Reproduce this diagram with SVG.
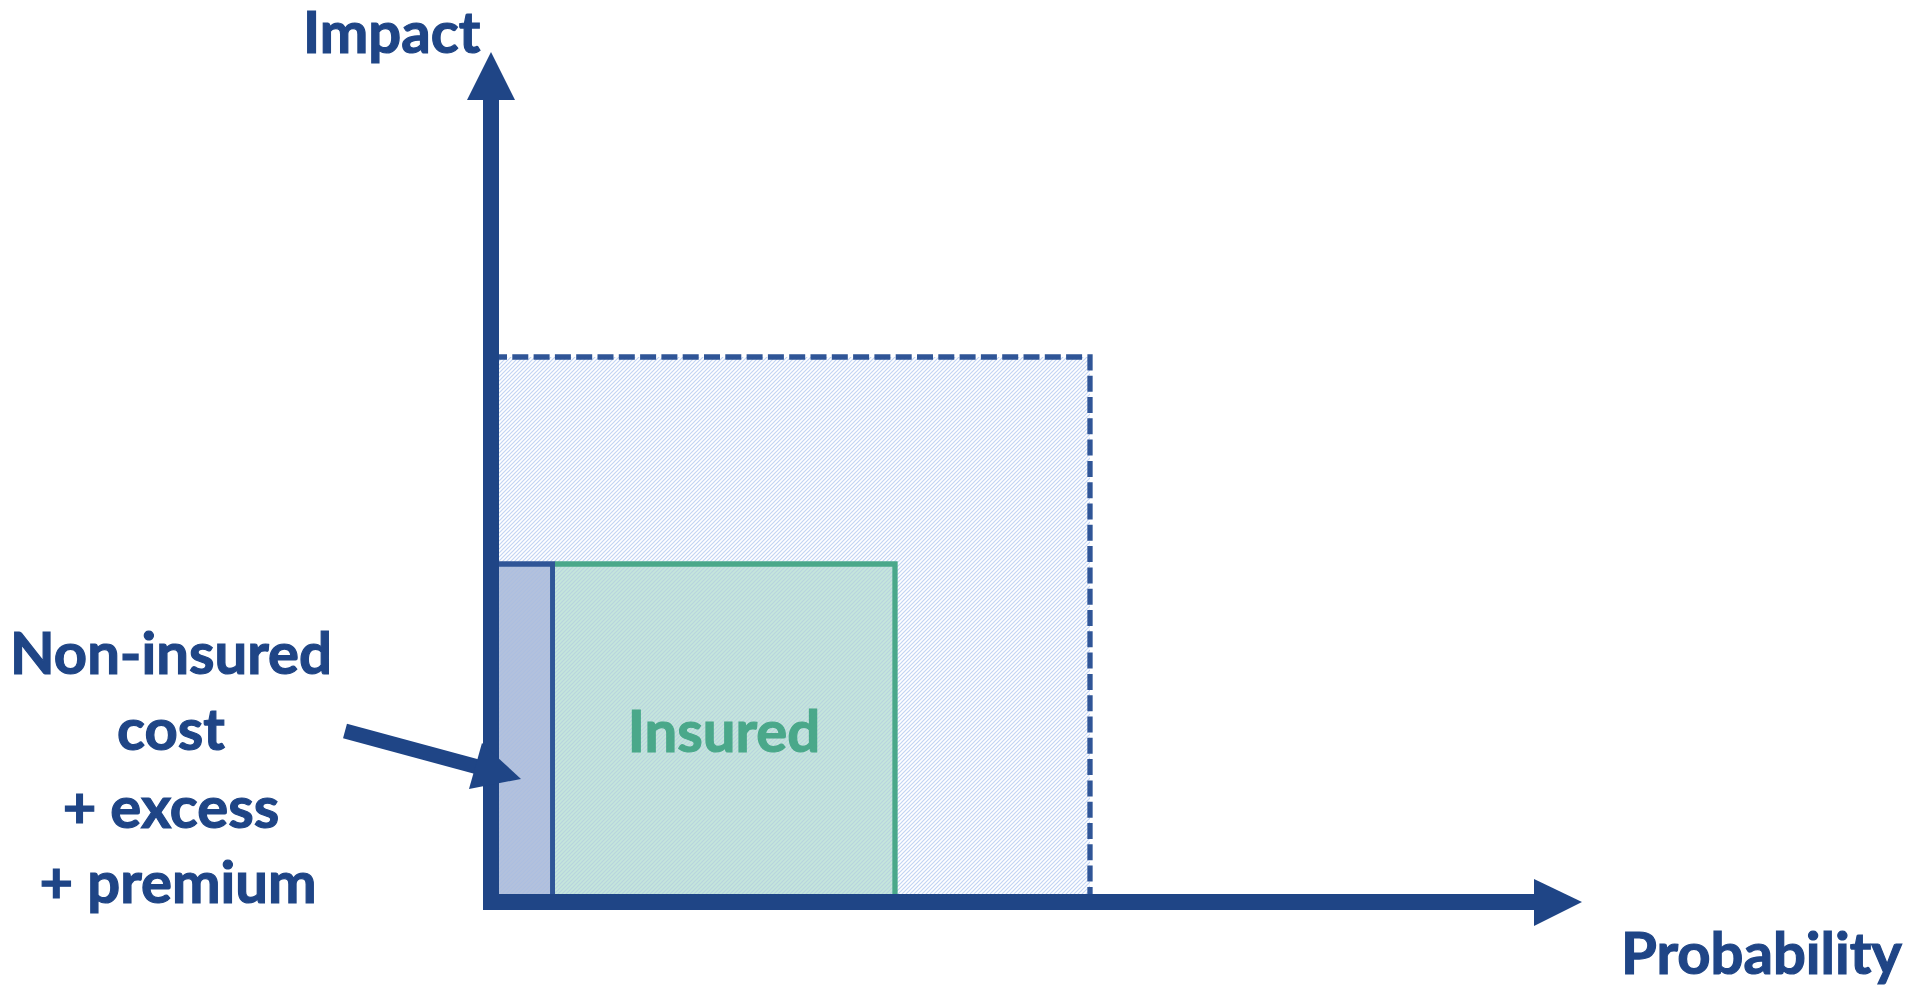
<svg xmlns="http://www.w3.org/2000/svg" width="1921" height="985" viewBox="0 0 1921 985">
  <style>
    .lbl { font-family: Lato, "Open Sans", "Liberation Sans", sans-serif; font-weight: bold; font-size: 58px; fill: #1f4586; stroke: #1f4586; stroke-width: 1.2; }
    .ins { fill: #4aa88a; stroke: #4aa88a; }
    .axis { stroke: #1f4586; stroke-width: 16; fill: none; }
    .head { fill: #1f4586; }
  </style>
  <defs>
    <!-- light upward-diagonal hatch -->
    <pattern id="hatch" patternUnits="userSpaceOnUse" width="4" height="4">
      <path d="M-1,1 L1,-1 M0,4 L4,0 M3,5 L5,3" stroke="#c3d4f3" stroke-width="1.2"/>
    </pattern>
    <pattern id="hatch-dark" patternUnits="userSpaceOnUse" width="4" height="4">
      <path d="M-1,1 L1,-1 M0,4 L4,0 M3,5 L5,3" stroke="#a7bde3" stroke-width="1.2"/>
    </pattern>
  </defs>

  <rect width="1921" height="985" fill="#ffffff"/>

  <!-- total risk area (dashed) -->
  <g id="total-risk">
    <rect x="491" y="357" width="599" height="545" fill="url(#hatch)"/>
    <path d="M491,357 H1090 V902" fill="none" stroke="#2f5597" stroke-width="5.3" stroke-dasharray="16 5.3"/>
  </g>

  <!-- non-insured portion -->
  <g id="non-insured">
    <rect x="491" y="564" width="62" height="338" fill="#b3c1dc"/>
    <rect x="491" y="564" width="62" height="338" fill="url(#hatch-dark)" opacity="0.6"/>
    <path d="M491,564 H552.7 V902" fill="none" stroke="#2f5597" stroke-width="5.3"/>
  </g>

  <!-- insured portion -->
  <g id="insured">
    <rect x="555" y="564" width="340" height="338" fill="#c5e6db"/>
    <rect x="555" y="564" width="340" height="338" fill="url(#hatch-dark)" opacity="0.45"/>
    <path d="M555,564 H895 V902" fill="none" stroke="#4aa88a" stroke-width="5.3"/>
    <text class="lbl ins" x="724" y="752" text-anchor="middle">Insured</text>
  </g>

  <!-- axes -->
  <g id="axes">
    <path class="axis" d="M491,98 V902 H1536"/>
    <polygon class="head" points="491,52 467,100 515,100"/>
    <polygon class="head" points="1582,902 1534,879 1534,926"/>
    <text class="lbl" x="303" y="53">Impact</text>
    <text class="lbl" x="1621" y="974">Probability</text>
  </g>

  <!-- callout -->
  <g id="connectors">
    <line x1="345" y1="731" x2="478" y2="767" stroke="#1f4586" stroke-width="15"/>
    <polygon class="head" points="521,779 482,743 469,789"/>
  </g>

  <g id="callout-label">
    <text class="lbl" text-anchor="middle">
      <tspan x="178" y="674">Non-insured</tspan>
      <tspan x="178" y="750">cost</tspan>
      <tspan x="178" y="828">+ excess</tspan>
      <tspan x="178" y="903">+ premium</tspan>
    </text>
  </g>
</svg>
